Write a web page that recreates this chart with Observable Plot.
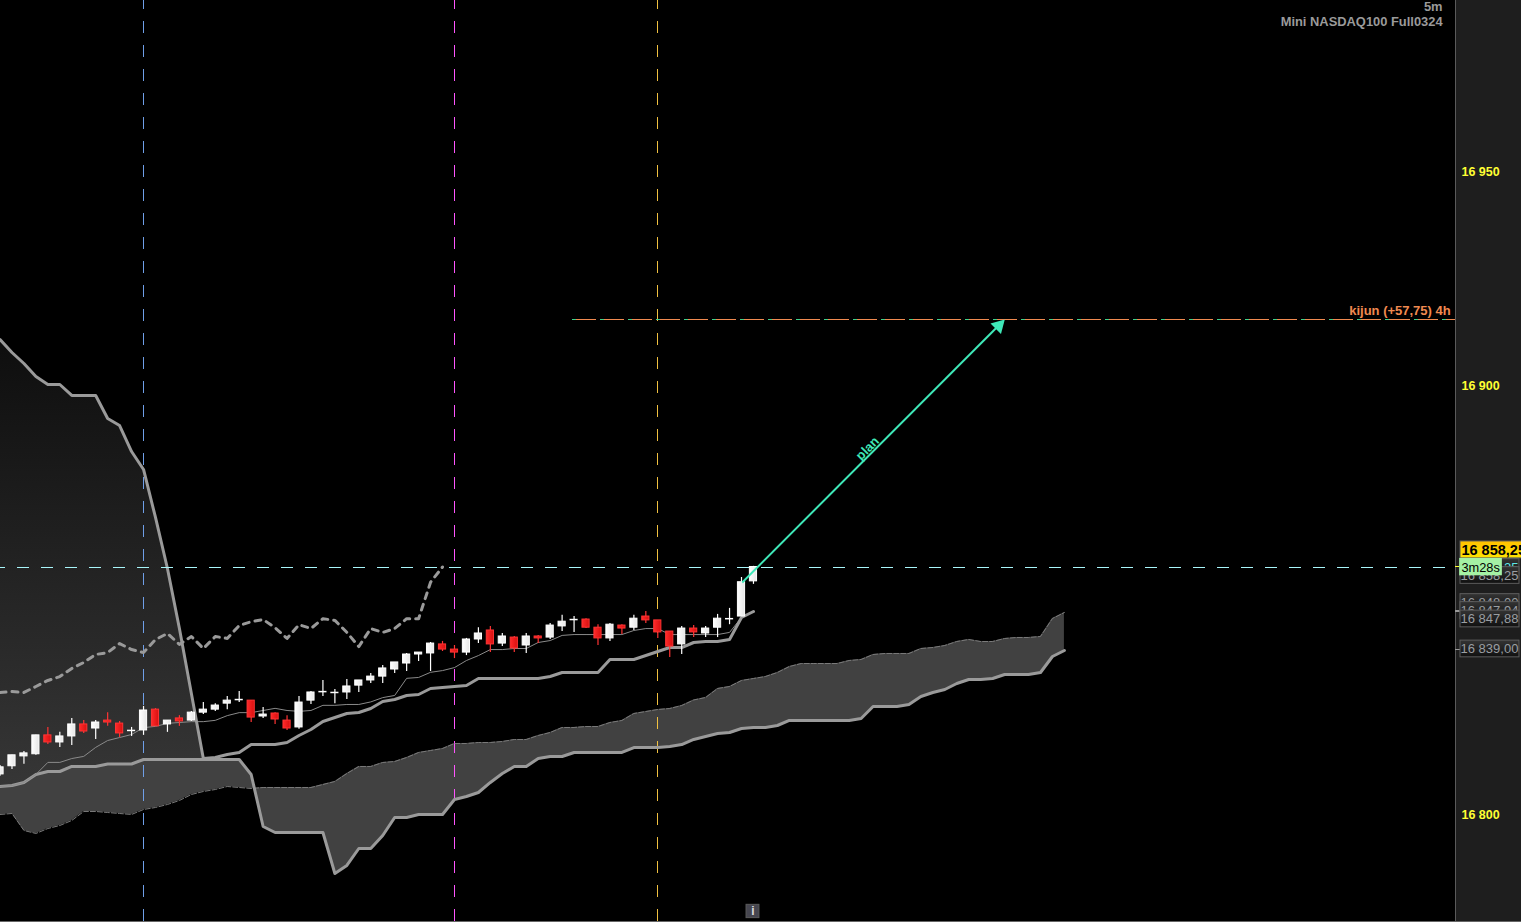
<!DOCTYPE html>
<html>
<head>
<meta charset="utf-8">
<script src="https://cdn.jsdelivr.net/npm/d3@7"></script>
<script src="https://cdn.jsdelivr.net/npm/@observablehq/plot@0.6"></script>
<style>
html,body{margin:0;padding:0;background:#000;overflow:hidden}
svg{display:block}
</style>
</head>
<body>
<div id="chart"></div>
<script>
const open = [16809.9,16811.8,16814.1,16814.6,16819,16817.35,16818.75,16821.55,16820.6,16822.45,16821.75,16820.15,16820.15,16825,16821.55,16822.95,16822.45,16824.3,16825,16826.4,16827.35,16827.1,16823.4,16824.1,16822.45,16820.85,16827.1,16829.2,16829,16829,16830.6,16831.8,16832.7,16834.35,16835.75,16837.85,16838.1,16840.2,16839,16838.3,16841.35,16843.45,16840.4,16841.8,16839.95,16842.05,16841.8,16844.4,16846,16846,16844.1,16841.6,16844.6,16844.1,16846.7,16845.8,16843.2,16840.2,16843.9,16842.75,16844.1,16846.2,16846.7,16854.9];
const high = [16812,16814.35,16815.25,16819,16820.85,16819.7,16822.95,16822.45,16822.45,16824.3,16822.25,16820.85,16825.75,16825.25,16822.45,16823.6,16824.55,16826.65,16826.4,16828.05,16829.2,16827.1,16825.5,16824.3,16823.6,16828.05,16829.2,16831.8,16829.7,16832,16831.8,16833.4,16835.3,16836,16838.1,16838.3,16840.65,16840.9,16839.95,16841.6,16844.1,16844.4,16842.75,16842.05,16842.75,16842.3,16845.1,16847,16846.7,16846.2,16844.8,16845.1,16844.8,16847,16847.9,16845.8,16843.2,16844.4,16844.6,16844.4,16847.2,16848.6,16855.8,16858.4];
const low = [16809.45,16811.05,16812.25,16814.35,16816.9,16816.2,16816.65,16819.45,16818.05,16821.1,16818.5,16818.75,16819,16821.1,16819.7,16821.1,16822.25,16823.85,16824.55,16825,16826.65,16822,16822.95,16821.55,16820.15,16820.4,16826.2,16828.05,16826.4,16827.35,16829,16831.1,16831.1,16833.4,16833.9,16836.2,16833.9,16838.55,16836.9,16837.6,16840.4,16838.3,16839.7,16838.3,16838.1,16840.4,16841.35,16843.2,16843,16843.9,16839.95,16840.9,16842.5,16843.45,16845.1,16841.6,16837.15,16837.85,16841.8,16841.8,16841.8,16844.8,16846.7,16854.2];
const close = [16811.55,16814.35,16814.8,16819,16817.35,16818.75,16821.55,16819.9,16822,16822,16819.45,16820.15,16824.8,16821.1,16822.45,16822.25,16824.3,16825,16825.95,16827.1,16827.35,16823.15,16823.85,16822.7,16820.6,16826.65,16829,16829.2,16829,16830.4,16831.8,16832.7,16834.6,16836,16837.85,16838.3,16840.4,16839,16838.3,16841.35,16842.75,16840.2,16842.05,16839.25,16842.05,16841.6,16844.6,16845.5,16846,16844.1,16841.6,16844.8,16843.9,16846.2,16845.8,16843,16839.7,16843.9,16843,16843.9,16846.2,16846.2,16854.7,16858.25];

const tenkan = [16807.1,16807.3,16808,16809.9,16812.7,16812.7,16813.6,16814.1,16816.2,16817.8,16818.5,16819.2,16820.8,16821.1,16821.8,16822,16822.2,16822.2,16822.5,16823.6,16824.3,16824.3,16824.8,16825.3,16824.8,16824.6,16824.8,16826,16826,16826.2,16826.2,16826.8,16827.8,16828.3,16832.3,16832.5,16833.7,16834.1,16834.8,16836.45,16837.6,16839,16839,16839.25,16839.25,16840.65,16841.1,16842.3,16842.5,16842.5,16842.5,16842.5,16842.5,16843.45,16843.9,16843.9,16842.5,16842.5,16842.5,16842.5,16842.5,16843,16846.5,16847.88];
const kijun = [16911.28,16908.25,16905.68,16902.65,16900.79,16900.79,16898.23,16898.23,16898.23,16892.86,16891.23,16885.17,16880.98,16869.79,16857.9,16843.91,16828.76,16813.61,16813.84,16814.54,16815.01,16816.87,16816.87,16816.87,16817.34,16818.97,16820.37,16822.24,16823.17,16824.1,16824.33,16825.26,16826.9,16827.36,16828.3,16828.53,16829.93,16830.16,16830.39,16830.63,16832.26,16832.26,16832.26,16832.26,16832.26,16832.26,16832.72,16833.66,16833.66,16833.66,16833.66,16836.69,16836.69,16836.69,16837.62,16838.55,16839.48,16839.48,16840.65,16840.88,16840.88,16841.35,16846.48,16847.88];
const chikou = [16829,16829.2,16829,16830.4,16831.8,16832.7,16834.6,16836,16837.85,16838.3,16840.4,16839,16838.3,16841.35,16842.75,16840.2,16842.05,16839.25,16842.05,16841.6,16844.6,16845.5,16846,16844.1,16841.6,16844.8,16843.9,16846.2,16845.8,16843,16839.7,16843.9,16843,16843.9,16846.2,16846.2,16854.7,16858.25];
const senkouA = [16800.56,16800.79,16796.83,16796.13,16797.29,16797.99,16799.16,16801.26,16801.26,16801.02,16800.79,16800.56,16801.72,16802.19,16802.89,16803.82,16805.22,16805.92,16806.38,16807.08,16806.85,16806.62,16806.85,16806.85,16806.85,16806.85,16806.85,16807.55,16808.25,16810.11,16811.75,16811.75,16812.68,16812.91,16813.84,16815.01,16815.47,16815.94,16817.11,16817.11,16817.34,16817.34,16817.57,16818.04,16818.04,16818.97,16819.67,16820.84,16820.84,16821.07,16821.07,16822,16822.47,16824.1,16824.56,16825.03,16825.26,16825.96,16827.25,16827.83,16829.93,16830.39,16831.79,16832.26,16832.72,16833.66,16835.05,16835.75,16835.75,16835.75,16835.75,16836.45,16836.69,16837.85,16838.09,16838.09,16838.09,16839.25,16839.48,16839.95,16840.88,16841.35,16840.88,16840.88,16841.58,16841.82,16841.82,16842.05,16846.24,16847.64];
const senkouB = [16807.08,16807.31,16808.01,16809.88,16810.58,16810.58,16811.75,16811.75,16811.75,16812.33,16812.33,16812.33,16813.38,16813.38,16813.38,16813.38,16813.38,16813.38,16813.38,16813.38,16813.38,16809.88,16797.76,16796.36,16796.36,16796.36,16796.36,16796.36,16786.8,16788.67,16792.63,16792.63,16795.66,16799.86,16799.86,16800.56,16800.56,16800.56,16804.05,16804.75,16805.68,16808.02,16810.11,16811.75,16811.75,16813.61,16814.08,16814.08,16815.01,16815.01,16815.01,16815.01,16815.01,16816.17,16816.17,16816.17,16816.41,16816.87,16818.04,16818.74,16819.44,16819.67,16820.6,16820.84,16820.84,16821.3,16822.47,16822.47,16822.47,16822.47,16822.47,16822.47,16822.93,16825.73,16825.73,16825.73,16826.2,16828.06,16828.99,16829.69,16831.09,16832.03,16832.03,16832.26,16833.19,16833.19,16833.19,16833.66,16837.39,16838.79];

const axisTicks = [16950,16900,16800];
const axisLabels = ["16 950","16 900","16 800"];
const sessionBars = [12,55];
const sessionOpenBar = [38];
const lastPrice = 16858.25;
const planStart = [62.06,16854.64];
const planEnd = [83.93,16915.71];
const kijunTarget = 16916;
const kijunFromBar = 47.87;

const barLeft = 0.04, barRight = 127.22, priceLow = 16775.38, priceHigh = 16990.3;
const panelBar = 121.72, labelBar = 122.2;

const rows = open.map((o,i)=>({i,o,c:close[i],h:high[i],l:low[i]}));
const up = d => d.c >= d.o;
const upRows = rows.filter(up), downRows = rows.filter(d=>!up(d));
const dojis = rows.filter(d=>d.c===d.o);
const bodies = r => r.filter(d=>d.c!==d.o);
const idx = a => a.map((v,i)=>({i,v}));

const cloud = senkouA.map((a,i)=>({i,a,b:senkouB[i]}));
const shade = kijun.slice(0,18).map((k,i)=>({i,k,b:senkouB[i]}));

// value-axis labels, drawn in stacking order: text, price where the box is shown, colour
const boxText = ["16 858,25","16 858,25","16 848,00","16 847,94","16 847,88","16 839,00"];
const boxAt = [16858.13,16856.27,16849.97,16848.11,16846.13,16839.14];
const boxColor = ["#5fe8e8","#9a9ea2","#9a9ea2","#9a9ea2","#9a9ea2","#9a9ea2"];
const boxes = boxText.map((t,i)=>({t,p:boxAt[i],c:boxColor[i]}));

const gray = "#9a9a9a", mint = "#3fe8b8", crisp = {shapeRendering:"crispEdges"};
const font = "'Liberation Sans', Arial, sans-serif";

const chart = Plot.plot({
  width:1521, height:922, margin:0,
  style:{background:"#000", fontFamily:font},
  x:{domain:[barLeft,barRight], axis:null},
  y:{domain:[priceLow,priceHigh], axis:null},
  marks:[
    // right value-axis panel
    Plot.rect([0],{x1:()=>panelBar,x2:()=>barRight,y1:()=>priceLow,y2:()=>priceHigh,fill:"#1e1e1e"}),
    Plot.ruleX([panelBar],{stroke:"#5a5a5a",strokeWidth:1,...crisp}),
    Plot.ruleY([priceLow+0.25],{stroke:"#666",strokeWidth:1,...crisp}),
    // clouds
    Plot.areaY(shade,{x:"i",y1:"k",y2:"b",fill:"url(#shade)"}),
    Plot.areaY(cloud,{x:"i",y1:"a",y2:"b",fill:"#414141"}),
    // vertical session lines
    Plot.ruleX(sessionBars.slice(0,1),{stroke:"#6f9fe8",strokeWidth:1,strokeDasharray:"12 12",strokeDashoffset:3,...crisp}),
    Plot.ruleX(sessionOpenBar,{stroke:"#ff55ff",strokeWidth:1,strokeDasharray:"12 12",strokeDashoffset:3,...crisp}),
    Plot.ruleX(sessionBars.slice(1),{stroke:"#f0c040",strokeWidth:1,strokeDasharray:"12 12",strokeDashoffset:3,...crisp}),
    // ichimoku lines
    Plot.line(idx(senkouA),{x:"i",y:"v",stroke:"#7a7a7a",strokeWidth:1,strokeDasharray:"5 2"}),
    Plot.line(idx(senkouB),{x:"i",y:"v",stroke:gray,strokeWidth:3}),
    Plot.line(idx(chikou),{x:"i",y:"v",stroke:gray,strokeWidth:3,strokeDasharray:"6 6"}),
    Plot.line(idx(tenkan),{x:"i",y:"v",stroke:"#8a8a8a",strokeWidth:1}),
    Plot.line(idx(kijun),{x:"i",y:"v",stroke:gray,strokeWidth:3}),
    // last-price line
    Plot.ruleY([lastPrice],{x1:()=>barLeft,x2:()=>panelBar,dy:0.6,stroke:"#a8f6fa",strokeWidth:1,strokeDasharray:"12 12",strokeDashoffset:7,...crisp}),
    // kijun 4h target line
    Plot.ruleY([kijunTarget],{x1:()=>kijunFromBar,x2:()=>panelBar,stroke:"#f08a50",strokeWidth:1,strokeDasharray:"24.05 4",...crisp}),
    Plot.ruleY([kijunTarget],{x1:()=>kijunFromBar,x2:()=>panelBar,stroke:"#3fd08a",strokeWidth:1,strokeDasharray:"4 24.05",...crisp}),
    // candles
    Plot.ruleX(upRows,{x:"i",y1:"l",y2:"h",stroke:"#fff",strokeWidth:1.2}),
    Plot.ruleX(downRows,{x:"i",y1:"l",y2:"h",stroke:"#ff3434",strokeWidth:1.2}),
    Plot.rect(bodies(upRows),{x1:d=>d.i-0.3,x2:d=>d.i+0.3,y1:"o",y2:"c",fill:"url(#upBody)",stroke:"#fff",strokeWidth:1}),
    Plot.rect(bodies(downRows),{x1:d=>d.i-0.3,x2:d=>d.i+0.3,y1:"o",y2:"c",fill:"url(#downBody)",stroke:"#ff3434",strokeWidth:1}),
    Plot.ruleY(dojis,{y:"o",x1:d=>d.i-0.34,x2:d=>d.i+0.34,stroke:"#fff",strokeWidth:1.5}),
    // plan arrow
    Plot.link([0],{x1:()=>planStart[0],y1:()=>planStart[1],x2:()=>planEnd[0]-0.3,y2:()=>planEnd[1]-0.8,stroke:mint,strokeWidth:2}),
    Plot.dot([0],{x:()=>planEnd[0]-0.42,y:()=>planEnd[1]-1.2,symbol:"triangle",r:5.5,fill:mint,rotate:45}),
    Plot.text(["plan"],{x:()=>72.54,y:()=>16885.87,rotate:-45,fill:mint,fontSize:13,fontWeight:"bold",fontFamily:font}),
    Plot.text(["kijun (+57,75) 4h"],{x:()=>121.3,y:()=>16917.85,textAnchor:"end",fill:"#f08a50",fontSize:13,fontWeight:"bold",fontFamily:font}),
    // header
    Plot.text(["5m"],{x:()=>120.62,y:()=>16988.9,textAnchor:"end",fill:"#9a9a9a",fontSize:12.9,fontWeight:"bold",fontFamily:font}),
    Plot.text(["Mini NASDAQ100 Full0324"],{x:()=>120.62,y:()=>16985.4,textAnchor:"end",fill:"#9a9a9a",fontSize:12.9,fontWeight:"bold",fontFamily:font}),
    // value axis
    Plot.text(axisTicks,{x:()=>labelBar,y:d=>d,text:(d,i)=>axisLabels[i],dy:-1.5,textAnchor:"start",fill:"#ffff33",fontSize:12.5,fontWeight:"bold",fontFamily:font}),
    Plot.ruleY([lastPrice],{x1:()=>panelBar,x2:()=>122.1,stroke:"#ffff33",strokeWidth:1,...crisp}),
    Plot.ruleY([16847.88],{x1:()=>panelBar,x2:()=>122.1,stroke:"#999",strokeWidth:2,...crisp}),
    Plot.ruleY([16839],{x1:()=>panelBar,x2:()=>122.1,stroke:"#999",strokeWidth:1,...crisp}),
    ...boxes.flatMap(b=>[
      Plot.rect([b],{x1:()=>122.12,x2:()=>127.05,y1:d=>d.p-1.95,y2:d=>d.p+1.95,fill:"url(#box)",stroke:"#5c5c5c",strokeWidth:1}),
      Plot.text([b],{x:()=>126.96,y:"p",text:"t",fill:b.c,textAnchor:"end",fontSize:13,fontFamily:font,lineAnchor:"middle"})
    ]),
    // live price and countdown
    Plot.rect(["16 858,25"],{x1:()=>122.12,x2:()=>127.3,y1:()=>16860.25,y2:()=>16864.2,fill:"url(#live)",stroke:"#5c5c5c",strokeWidth:1}),
    Plot.text(["16 858,25"],{x:()=>122.2,y:()=>16862.2,textAnchor:"start",fill:"#000",fontSize:14.5,fontWeight:"bold",fontFamily:font}),
    Plot.rect(["3m28s"],{x1:()=>122.05,x2:()=>125.62,y1:()=>16856.2,y2:()=>16860.25,fill:"#a4f2a4"}),
    Plot.text(["3m28s"],{x:()=>122.2,y:()=>16858.15,textAnchor:"start",fill:"#000",fontSize:12.8,fontFamily:font}),
    // info button
    Plot.rect(["i"],{x1:()=>62.42,x2:()=>63.5,y1:()=>16776.4,y2:()=>16779.5,fill:"#464650",stroke:"#5a5a5a"}),
    Plot.text(["i"],{x:()=>62.96,y:()=>16777.95,fill:"#ddd",fontSize:12,fontWeight:"bold",fontFamily:font})
  ]
});

const ns = "http://www.w3.org/2000/svg";
const defs = document.createElementNS(ns,"defs");
defs.innerHTML = `
<linearGradient id="shade" x1="0" y1="0" x2="0" y2="1"><stop offset="0" stop-color="#0e0e0e"/><stop offset="1" stop-color="#363636"/></linearGradient>
<linearGradient id="upBody" x1="0" y1="0" x2="1" y2="0"><stop offset="0" stop-color="#ffffff"/><stop offset="1" stop-color="#e6e6e6"/></linearGradient>
<linearGradient id="downBody" x1="0" y1="0" x2="1" y2="0"><stop offset="0" stop-color="#ff2a2a"/><stop offset="1" stop-color="#d81010"/></linearGradient>
<linearGradient id="box" x1="0" y1="0" x2="0" y2="1"><stop offset="0" stop-color="#343434"/><stop offset="1" stop-color="#101010"/></linearGradient>
<linearGradient id="live" x1="0" y1="0" x2="0" y2="1"><stop offset="0" stop-color="#ffc000"/><stop offset="1" stop-color="#ffe400"/></linearGradient>`;
chart.insertBefore(defs, chart.firstChild);
document.getElementById("chart").appendChild(chart);
</script>
</body>
</html>
